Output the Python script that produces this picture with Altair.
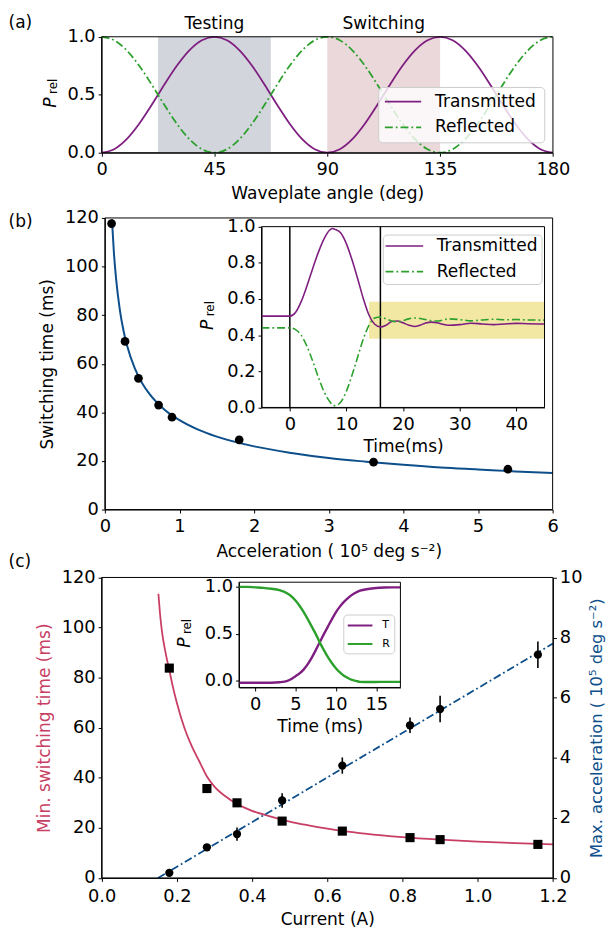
import altair as alt
import pandas as pd

# ---------------- canvas ----------------
W, H = 606, 926
FONT = "DejaVu Sans"
FS = 18        # tick labels
FT = 17.2      # axis titles / annotations
PURPLE = "#7e1e80"
GREEN = "#2ca02c"
BLUE = "#0d4f8b"
RED = "#c83e64"
GRAY_SHADE = "#d3d5dc"
PINK_SHADE = "#ebd8da"
YELLOW = "#f2e7a3"
DASHDOT = [8, 3, 1.8, 3]

# plot-area pixel frames (chart coordinates)
AX, AY = [94.7, 551.3], [141.0, 23.7]
BX, BY = [98.0, 551.0], [502.0, 207.0]
BIX, BIY = [256.5, 542.8], [398.7, 215.8]
CX, CY = [94.7, 551.3], [874.7, 570.7]
CIX, CIY = [233.7, 397.0], [682.0, 575.5]

# ---------------- data ----------------
# (a) waveplate angle scan
angle_deg = [0, 5, 10, 15, 20, 25, 30, 35, 40, 45, 50, 55, 60, 65, 70, 75, 80, 85, 90,
             95, 100, 105, 110, 115, 120, 125, 130, 135, 140, 145, 150, 155, 160, 165, 170, 175, 180]
trans_a = [0.000, 0.030, 0.117, 0.250, 0.413, 0.587, 0.750, 0.883, 0.970, 1.000, 0.970, 0.883,
           0.750, 0.587, 0.413, 0.250, 0.117, 0.030, 0.000,
           0.030, 0.117, 0.250, 0.413, 0.587, 0.750, 0.883, 0.970, 1.000, 0.970, 0.883,
           0.750, 0.587, 0.413, 0.250, 0.117, 0.030, 0.000]
refl_a = [1.000, 0.970, 0.883, 0.750, 0.587, 0.413, 0.250, 0.117, 0.030, 0.000, 0.030, 0.117,
          0.250, 0.413, 0.587, 0.750, 0.883, 0.970, 1.000,
          0.970, 0.883, 0.750, 0.587, 0.413, 0.250, 0.117, 0.030, 0.000, 0.030, 0.117,
          0.250, 0.413, 0.587, 0.750, 0.883, 0.970, 1.000]
region_names = ["Testing", "Switching"]
region_start = [22.5, 90.0]
region_end = [67.5, 135.0]
region_mid = [45.0, 112.5]

# (b) switching time vs acceleration
acc_pts = [0.09, 0.27, 0.45, 0.72, 0.90, 1.80, 3.60, 5.40]
tsw_pts = [117.7, 69.2, 54.0, 43.0, 38.0, 28.7, 19.5, 16.6]
acc_fit = [0.095, 0.12, 0.15, 0.2, 0.25, 0.3, 0.4, 0.5, 0.6, 0.8, 1.0, 1.25, 1.5, 2.0,
           2.5, 3.0, 3.5, 4.0, 4.5, 5.0, 5.5, 6.0]
tsw_fit = [119.4, 106.2, 95.0, 82.3, 73.6, 67.2, 58.2, 52.0, 47.5, 41.1, 36.8, 32.9, 30.0, 26.0,
           23.3, 21.2, 19.7, 18.4, 17.3, 16.5, 15.7, 15.0]

# (b) inset: time trace
time_b = [-5, 0, 1, 2, 3, 4, 5, 6, 7, 7.5, 8, 9, 10, 11, 12, 13, 14, 15, 16, 17,
          18, 19, 20, 21, 22, 23, 24, 25, 26, 27, 28, 30, 32, 34, 36, 38, 40, 42, 45]
trans_b = [0.505, 0.505, 0.525, 0.585, 0.67, 0.765, 0.855, 0.93, 0.98, 0.99,
           0.985, 0.965, 0.905, 0.815, 0.71, 0.60, 0.51, 0.46, 0.445, 0.455,
           0.475, 0.478, 0.468, 0.455, 0.448, 0.455, 0.467, 0.472, 0.468, 0.46,
           0.455, 0.458, 0.466, 0.462, 0.458, 0.462, 0.465, 0.463, 0.462]
refl_b = [0.44, 0.44, 0.43, 0.40, 0.34, 0.26, 0.17, 0.09, 0.035, 0.015,
          0.01, 0.03, 0.09, 0.18, 0.28, 0.38, 0.455, 0.495, 0.50, 0.49,
          0.478, 0.474, 0.48, 0.49, 0.495, 0.492, 0.486, 0.48, 0.478, 0.483,
          0.49, 0.486, 0.479, 0.484, 0.488, 0.485, 0.486, 0.484, 0.483]
marker_times = [0, 16]
band_t = [14, 45]
band_p = [0.38, 0.585]

# (c) min switching time & max acceleration vs current
cur_pts = [0.18, 0.28, 0.36, 0.48, 0.64, 0.82, 0.90, 1.16]
tmin_pts = [83.8, 35.7, 30.0, 22.7, 18.7, 16.1, 15.3, 13.4]
amax_pts = [0.17, 1.02, 1.46, 2.58, 3.74, 5.08, 5.62, 7.43]
amax_err = [0.08, 0.08, 0.22, 0.24, 0.27, 0.26, 0.44, 0.44]
cur_fit = [0.151, 0.155, 0.16, 0.17, 0.18, 0.19, 0.20, 0.22, 0.24, 0.26, 0.28, 0.30, 0.33,
           0.36, 0.40, 0.45, 0.50, 0.55, 0.60, 0.65, 0.70, 0.80, 0.90, 1.00, 1.10, 1.20]
tmin_fit = [113.5, 106, 99, 90, 83, 76, 70, 60, 52.5, 46.5, 40.5, 36.5, 32.5,
            29.5, 26.8, 24.5, 22.5, 21, 19.7, 18.6, 17.7, 16.3, 15.3, 14.5, 13.9, 13.4]
cur_line = [0.15, 1.20]
amax_line = [0.0, 7.8]

# (c) inset
time_c = [-2, -1, 0, 1, 2, 3, 4, 4.5, 5, 5.5, 6, 6.5, 7, 7.5, 8, 8.5, 9, 9.5, 10, 10.5,
          11, 11.5, 12, 12.5, 13, 14, 15, 16, 17, 18]
T_c = [-0.02, -0.02, -0.02, -0.02, -0.02, -0.015, 0.0, 0.02, 0.05, 0.08,
       0.12, 0.175, 0.245, 0.325, 0.41, 0.495, 0.575, 0.655, 0.73, 0.79,
       0.84, 0.88, 0.915, 0.94, 0.96, 0.978, 0.988, 0.993, 0.995, 0.995]
R_c = [1.0, 1.0, 0.995, 0.99, 0.98, 0.965, 0.93, 0.90, 0.855, 0.80,
       0.735, 0.66, 0.58, 0.50, 0.41, 0.33, 0.255, 0.19, 0.135, 0.09,
       0.055, 0.03, 0.01, 0.0, -0.01, -0.012, -0.012, -0.01, -0.01, -0.01]

# domains
A_XD, A_YD = [0, 180], [0, 1]
B_XD, B_YD = [0, 6], [0, 120]
BI_XD, BI_YD = [-5, 45], [0, 1]
C_XD, C_YD, C_Y2D = [0, 1.2], [0, 120], [0, 10]
CI_XD, CI_YD = [-2, 18], [-0.07, 1.05]


# ---------------- helpers ----------------
def sc(domain, rng):
    return alt.Scale(domain=domain, range=rng, nice=False, zero=False)


def bottom_axis(ypix, title, values, fmt=None, **kw):
    d = dict(orient="bottom", offset=ypix - H, title=title, values=values,
             labelPadding=4.5, titlePadding=7)
    if fmt:
        d["format"] = fmt
    d.update(kw)
    return alt.Axis(**d)


def left_axis(xpix, title, values, fmt=None, **kw):
    d = dict(orient="left", offset=-xpix, title=title, values=values,
             labelPadding=3, titlePadding=8)
    if fmt:
        d["format"] = fmt
    d.update(kw)
    return alt.Axis(**d)


def vtext(s, x, y, size=FT, color="black", **kw):
    return alt.Chart(pd.DataFrame({"t": [s]})).mark_text(
        font=FONT, fontSize=size, color=color, **kw
    ).encode(x=alt.value(x), y=alt.value(y), text="t:N")


def vrule(x1, x2, y, color, width, dash=None):
    kw = dict(color=color, strokeWidth=width)
    if dash:
        kw["strokeDash"] = dash
    return alt.Chart(pd.DataFrame({"a": [0]})).mark_rule(**kw).encode(
        x=alt.value(x1), x2=alt.value(x2), y=alt.value(y))


def vbox(x1, y1, x2, y2):
    return alt.Chart(pd.DataFrame({"a": [0]})).mark_rect(
        fill="white", fillOpacity=0.8, stroke="#cccccc", strokeWidth=1, cornerRadius=4
    ).encode(x=alt.value(x1), x2=alt.value(x2), y=alt.value(y1), y2=alt.value(y2))


def frame(xd, yd, xr, yr):
    df = pd.DataFrame({"x0": [xd[0]], "x1": [xd[1]], "y0": [yd[0]], "y1": [yd[1]]})
    return alt.Chart(df).mark_rect(fillOpacity=0, stroke="black", strokeWidth=1).encode(
        x=alt.X("x0:Q", scale=sc(xd, xr), axis=None), x2="x1:Q",
        y=alt.Y("y0:Q", scale=sc(yd, yr), axis=None), y2="y1:Q")


def prel(xc, ymid):
    return [vtext("P", xc, ymid + 8, fontStyle="italic", angle=270),
            vtext("rel", xc + 2.5, ymid - 8.5, size=12, angle=270)]


layers = []

# ================= panel (a) =================
df_reg = pd.DataFrame({"name": region_names, "s": region_start, "e": region_end,
                       "m": region_mid, "y0": [0, 0], "y1": [1, 1]})
for i, col in enumerate([GRAY_SHADE, PINK_SHADE]):
    layers.append(alt.Chart(df_reg.iloc[[i]]).mark_rect(color=col, opacity=1).encode(
        x=alt.X("s:Q", scale=sc(A_XD, AX), axis=None), x2="e:Q",
        y=alt.Y("y0:Q", scale=sc(A_YD, AY), axis=None), y2="y1:Q"))

df_a = pd.DataFrame({"angle": angle_deg, "T": trans_a, "R": refl_a})
layers.append(alt.Chart(df_a).mark_line(color=PURPLE, strokeWidth=1.8, interpolate="monotone").encode(
    x=alt.X("angle:Q", scale=sc(A_XD, AX),
            axis=bottom_axis(AY[0], "Waveplate angle (deg)", [0, 45, 90, 135, 180], titlePadding=6)),
    y=alt.Y("T:Q", scale=sc(A_YD, AY), axis=left_axis(AX[0], None, [0, 0.5, 1.0], ".1f"))))
layers.append(alt.Chart(df_a).mark_line(color=GREEN, strokeWidth=1.8, strokeDash=DASHDOT,
                                        interpolate="monotone").encode(
    x=alt.X("angle:Q", scale=sc(A_XD, AX), axis=None),
    y=alt.Y("R:Q", scale=sc(A_YD, AY), axis=None)))
layers.append(frame(A_XD, A_YD, AX, AY))
layers.append(alt.Chart(df_reg).mark_text(font=FONT, fontSize=FT, baseline="alphabetic").encode(
    x=alt.X("m:Q", scale=sc(A_XD, AX), axis=None), y=alt.value(15.5), text="name:N"))
# legend (a)
layers += [vbox(375, 75, 543, 131),
           vrule(381.3, 418, 89.3, PURPLE, 1.8),
           vrule(381.3, 418, 115.3, GREEN, 1.8, DASHDOT),
           vtext("Transmitted", 432, 89.3, align="left"),
           vtext("Reflected", 432, 115.3, align="left")]
layers += prel(43.5, (AY[0] + AY[1]) / 2)
layers.append(vtext("(a)", 0.5, 14.5, align="left", baseline="alphabetic"))

# ================= panel (b) =================
df_bfit = pd.DataFrame({"a": acc_fit, "t": tsw_fit})
df_bpts = pd.DataFrame({"a": acc_pts, "t": tsw_pts})
layers.append(alt.Chart(df_bfit).mark_line(color=BLUE, strokeWidth=2, interpolate="monotone").encode(
    x=alt.X("a:Q", scale=sc(B_XD, BX),
            axis=bottom_axis(BY[0], "Acceleration ( 10\u2075 deg s\u207b\u00b2)", [0, 1, 2, 3, 4, 5, 6],
                             titlePadding=7.5)),
    y=alt.Y("t:Q", scale=sc(B_YD, BY),
            axis=left_axis(BX[0], "Switching time (ms)", [0, 20, 40, 60, 80, 100, 120]))))
layers.append(alt.Chart(df_bpts).mark_circle(color="black", size=78, opacity=1).encode(
    x=alt.X("a:Q", scale=sc(B_XD, BX), axis=None),
    y=alt.Y("t:Q", scale=sc(B_YD, BY), axis=None)))
layers.append(frame(B_XD, B_YD, BX, BY))

# (b) inset
df_band = pd.DataFrame({"x0": [band_t[0]], "x1": [band_t[1]], "y0": [band_p[0]], "y1": [band_p[1]]})
layers.append(alt.Chart(df_band).mark_rect(color=YELLOW, opacity=1).encode(
    x=alt.X("x0:Q", scale=sc(BI_XD, BIX), axis=None), x2="x1:Q",
    y=alt.Y("y0:Q", scale=sc(BI_YD, BIY), axis=None), y2="y1:Q"))
df_mk = pd.DataFrame({"t": marker_times, "y0": [0, 0], "y1": [1, 1]})
layers.append(alt.Chart(df_mk).mark_rule(color="black", strokeWidth=1.5).encode(
    x=alt.X("t:Q", scale=sc(BI_XD, BIX), axis=None),
    y=alt.Y("y0:Q", scale=sc(BI_YD, BIY), axis=None), y2="y1:Q"))
df_bi = pd.DataFrame({"t": time_b, "T": trans_b, "R": refl_b})
layers.append(alt.Chart(df_bi).mark_line(color=PURPLE, strokeWidth=1.6, interpolate="monotone").encode(
    x=alt.X("t:Q", scale=sc(BI_XD, BIX),
            axis=bottom_axis(BIY[0], "Time(ms)", [0, 10, 20, 30, 40], titlePadding=5)),
    y=alt.Y("T:Q", scale=sc(BI_YD, BIY),
            axis=left_axis(BIX[0], None, [0, 0.2, 0.4, 0.6, 0.8, 1.0], ".1f"))))
layers.append(alt.Chart(df_bi).mark_line(color=GREEN, strokeWidth=1.6, strokeDash=DASHDOT,
                                         interpolate="monotone").encode(
    x=alt.X("t:Q", scale=sc(BI_XD, BIX), axis=None),
    y=alt.Y("R:Q", scale=sc(BI_YD, BIY), axis=None)))
layers.append(frame(BI_XD, BI_YD, BIX, BIY))
layers += [vbox(379.7, 224.3, 540.3, 274.3),
           vrule(382, 420, 235.3, PURPLE, 1.6),
           vrule(382, 420, 261.3, GREEN, 1.6, DASHDOT),
           vtext("Transmitted", 433.7, 235.3, align="left"),
           vtext("Reflected", 433.7, 261.3, align="left")]
layers += prel(202, (BIY[0] + BIY[1]) / 2)
layers.append(vtext("(b)", 0.5, 216, align="left", baseline="alphabetic"))

# ================= panel (c) =================
df_cfit = pd.DataFrame({"c": cur_fit, "t": tmin_fit})
df_cl = pd.DataFrame({"c": cur_line, "a": amax_line})
df_cp = pd.DataFrame({"c": cur_pts, "t": tmin_pts, "a": amax_pts,
                      "lo": [a - e for a, e in zip(amax_pts, amax_err)],
                      "hi": [a + e for a, e in zip(amax_pts, amax_err)]})
layers.append(alt.Chart(df_cfit).mark_line(color=RED, strokeWidth=1.8, interpolate="monotone").encode(
    x=alt.X("c:Q", scale=sc(C_XD, CX),
            axis=bottom_axis(CY[0], "Current (A)", [0, 0.2, 0.4, 0.6, 0.8, 1.0, 1.2], ".1f",
                             labelPadding=6.5, titlePadding=5)),
    y=alt.Y("t:Q", scale=sc(C_YD, CY),
            axis=left_axis(CX[0], "Min. switching time (ms)", [0, 20, 40, 60, 80, 100, 120],
                           titleColor=RED))))
layers.append(alt.Chart(df_cp).mark_square(color="black", size=85, opacity=1).encode(
    x=alt.X("c:Q", scale=sc(C_XD, CX), axis=None),
    y=alt.Y("t:Q", scale=sc(C_YD, CY), axis=None)))
layers.append(alt.Chart(df_cl).mark_line(color=BLUE, strokeWidth=1.8, strokeDash=DASHDOT).encode(
    x=alt.X("c:Q", scale=sc(C_XD, CX), axis=None),
    y=alt.Y("a:Q", scale=sc(C_Y2D, CY), axis=None)))
layers.append(alt.Chart(df_cp).mark_rule(color="black", strokeWidth=1.6).encode(
    x=alt.X("c:Q", scale=sc(C_XD, CX), axis=None),
    y=alt.Y("lo:Q", scale=sc(C_Y2D, CY), axis=None), y2="hi:Q"))
layers.append(alt.Chart(df_cp).mark_circle(color="black", size=70, opacity=1).encode(
    x=alt.X("c:Q", scale=sc(C_XD, CX), axis=None),
    y=alt.Y("a:Q", scale=sc(C_Y2D, CY),
            axis=alt.Axis(orient="right", offset=CX[1] - W, values=[0, 2, 4, 6, 8, 10],
                          labelPadding=3, titlePadding=7, titleFontSize=16.5,
                          title="Max. acceleration ( 10\u2075 deg s\u207b\u00b2)",
                          titleColor=BLUE, titleAngle=270, titleBaseline="top"))))
layers.append(frame(C_XD, C_YD, CX, CY))

# (c) inset
df_ci = pd.DataFrame({"t": time_c, "T": T_c, "R": R_c})
layers.append(alt.Chart(df_ci).mark_line(color=PURPLE, strokeWidth=2.4, interpolate="monotone").encode(
    x=alt.X("t:Q", scale=sc(CI_XD, CIX),
            axis=bottom_axis(CIY[0], "Time (ms)", [0, 5, 10, 15], titlePadding=5)),
    y=alt.Y("T:Q", scale=sc(CI_YD, CIY),
            axis=left_axis(CIX[0], None, [0, 0.5, 1.0], ".1f"))))
layers.append(alt.Chart(df_ci).mark_line(color=GREEN, strokeWidth=2.4, interpolate="monotone").encode(
    x=alt.X("t:Q", scale=sc(CI_XD, CIX), axis=None),
    y=alt.Y("R:Q", scale=sc(CI_YD, CIY), axis=None)))
layers.append(frame(CI_XD, CI_YD, CIX, CIY))
layers += [vbox(339.7, 608.7, 391.3, 648),
           vrule(343.7, 368.7, 619.3, PURPLE, 2),
           vrule(343.7, 368.7, 638, GREEN, 2),
           vtext("T", 378.7, 619.3, size=11, align="left"),
           vtext("R", 378.7, 638, size=11, align="left")]
layers += prel(178.7, (CIY[0] + CIY[1]) / 2)
layers.append(vtext("(c)", 0.5, 560.5, align="left", baseline="alphabetic"))

chart = alt.layer(*layers).resolve_scale(
    x="independent", y="independent"
).properties(
    width=W, height=H, padding=0, autosize=alt.AutoSizeParams(type="none")
).configure_view(strokeWidth=0).configure_axis(
    labelFont=FONT, labelFontSize=FS, titleFont=FONT, titleFontSize=FT,
    titleFontWeight="normal", labelColor="black", titleColor="black",
    domainColor="black", tickColor="black", tickSize=3.5, tickWidth=1, domainWidth=1,
    grid=False, labelFlush=False, labelOverlap=False
)

chart.save("out.html", embed_options={"renderer": "svg", "actions": False})
